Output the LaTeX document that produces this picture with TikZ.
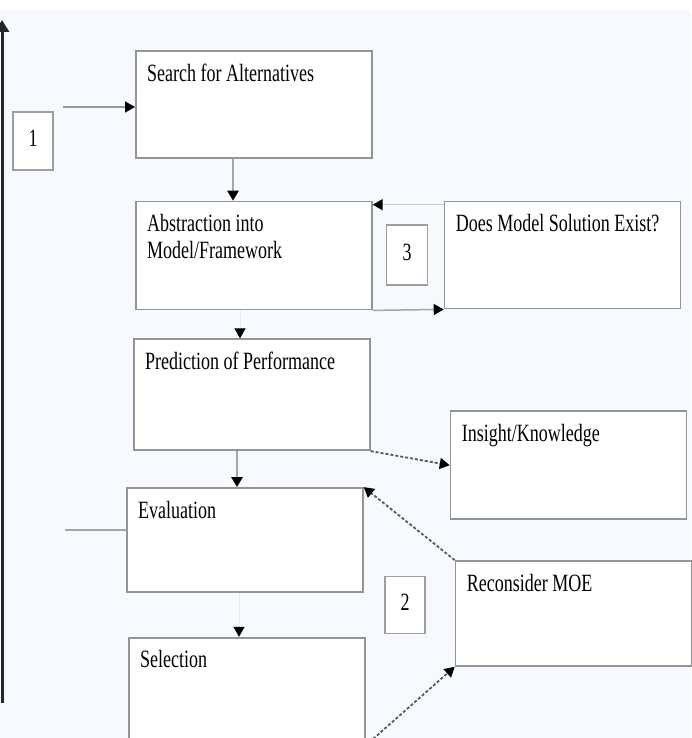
\documentclass[tikz,border=0pt]{standalone}
\usepackage{fontspec}
\setmainfont{Liberation Serif}
\usepackage{graphicx}
\usepackage{tikz}
\usetikzlibrary{arrows.meta,positioning}
\definecolor{fondo}{HTML}{F6F9FD}
\newcommand{\alto}[1]{\scalebox{1}[1.38]{\begin{tabular}{@{}l@{}}#1\end{tabular}}}

\begin{document}
\begin{tikzpicture}[x=1pt, y=-1pt,
  caja/.style={draw=black!42, line width=1.7pt, fill=white, minimum width=236pt,
               minimum height=107pt, inner sep=0pt, anchor=north west},
  titulo/.style={anchor=north west, inner sep=0pt, xshift=12pt, yshift=-12pt},
  num/.style={draw=black!38, line width=1.7pt, fill=white, minimum width=40pt,
              minimum height=58pt, inner sep=0pt},
  flecha/.style={-{Triangle[length=10pt, width=11pt, color=black]}, line width=2.5pt, draw=black!35},
  tenue/.style={flecha, line width=1pt, draw=black!8},
  discont/.style={-{Triangle[length=10pt, width=11pt, color=black]}, densely dashed,
                  line width=1.8pt, draw=black!65},
  font=\fontsize{18pt}{19.5pt}\selectfont,
]
  \useasboundingbox (0,0) rectangle (691,738);
  \fill[white] (0,0) rectangle (691,738);
  \fill[fondo] (0,10) rectangle (691,738);

  \node[caja, label={[titulo]north west:{\alto{Search for Alternatives}}}]
    (search) at (135,50) {};
  \node[caja, below=42pt of search.south west, anchor=north west, minimum height=108pt,
        label={[titulo]north west:{\alto{Abstraction into\\Model/Framework}}}]
    (abstraction) {};
  \node[caja, right=71pt of abstraction.north east, anchor=north west,
        label={[titulo]north west:{\alto{Does Model Solution Exist?}}}]
    (model) {};
  \node[caja, below=28pt of abstraction.south west, anchor=north west, xshift=-2pt,
        minimum height=111pt,
        label={[titulo]north west:{\alto{Prediction of Performance}}}]
    (prediction) {};
  \node[caja, below=101pt of model.south west, anchor=north west, xshift=6pt,
        minimum height=108pt,
        label={[titulo]north west:{\alto{Insight/Knowledge}}}]
    (insight) {};
  \node[caja, below=36pt of prediction.south west, anchor=north west, xshift=-7pt,
        minimum height=104pt,
        label={[titulo]north west:{\alto{Evaluation}}}]
    (evaluation) {};
  \node[caja, below=44pt of evaluation.south west, anchor=north west, xshift=2pt,
        label={[titulo]north west:{\alto{Selection}}}]
    (selection) {};
  \node[caja, below=40pt of insight.south west, anchor=north west, xshift=5pt,
        minimum height=105pt,
        label={[titulo]north west:{\alto{Reconsider MOE}}}]
    (reconsider) {};

  \node[num] (one) at (33,141) {\alto{1}};
  \node[num, minimum width=41pt, minimum height=60pt] (three) at (407,255) {\alto{3}};
  \node[num, minimum height=57pt] (two) at (405,605) {\alto{2}};

  \coordinate (unoout) at (63,107);
  \coordinate (evalin) at (65,530);
  \coordinate (retbot) at (2,703);
  \coordinate (rettop) at (2,20);

  \draw[flecha, line width=1.5pt, draw=black!40] (unoout) -- (unoout -| search.west);
  \draw[flecha] ([xshift=98pt]search.south west)
    -- ([xshift=98pt]search.south west |- abstraction.north);
  \draw[tenue] ([xshift=105pt]abstraction.south west)
    -- ([xshift=105pt]abstraction.south west |- prediction.north);
  \draw[flecha, line width=1.5pt, draw=black!20] ([yshift=-4pt]model.north west)
    -- ([yshift=-4pt]model.north west -| abstraction.east);
  \draw[flecha, line width=1.5pt] (abstraction.south east) -- (model.south west);
  \draw[flecha] ([xshift=104pt]prediction.south west)
    -- ([xshift=104pt]prediction.south west |- evaluation.north);
  \draw[tenue] ([xshift=113pt]evaluation.south west)
    -- ([xshift=113pt]evaluation.south west |- selection.north);
  \draw[discont] (prediction.south east) -- (insight.west);
  \draw[discont] (reconsider.north west) -- (evaluation.north east);
  \draw[discont] (selection.south east) -- (reconsider.south west);
  \draw[line width=1.5pt, draw=black!35] (evalin) -- (evalin -| evaluation.west);
  \draw[-{Triangle[length=12pt, width=14pt]}, line width=3pt, draw=black!85]
    (retbot) -- (rettop);
\end{tikzpicture}
\end{document}
